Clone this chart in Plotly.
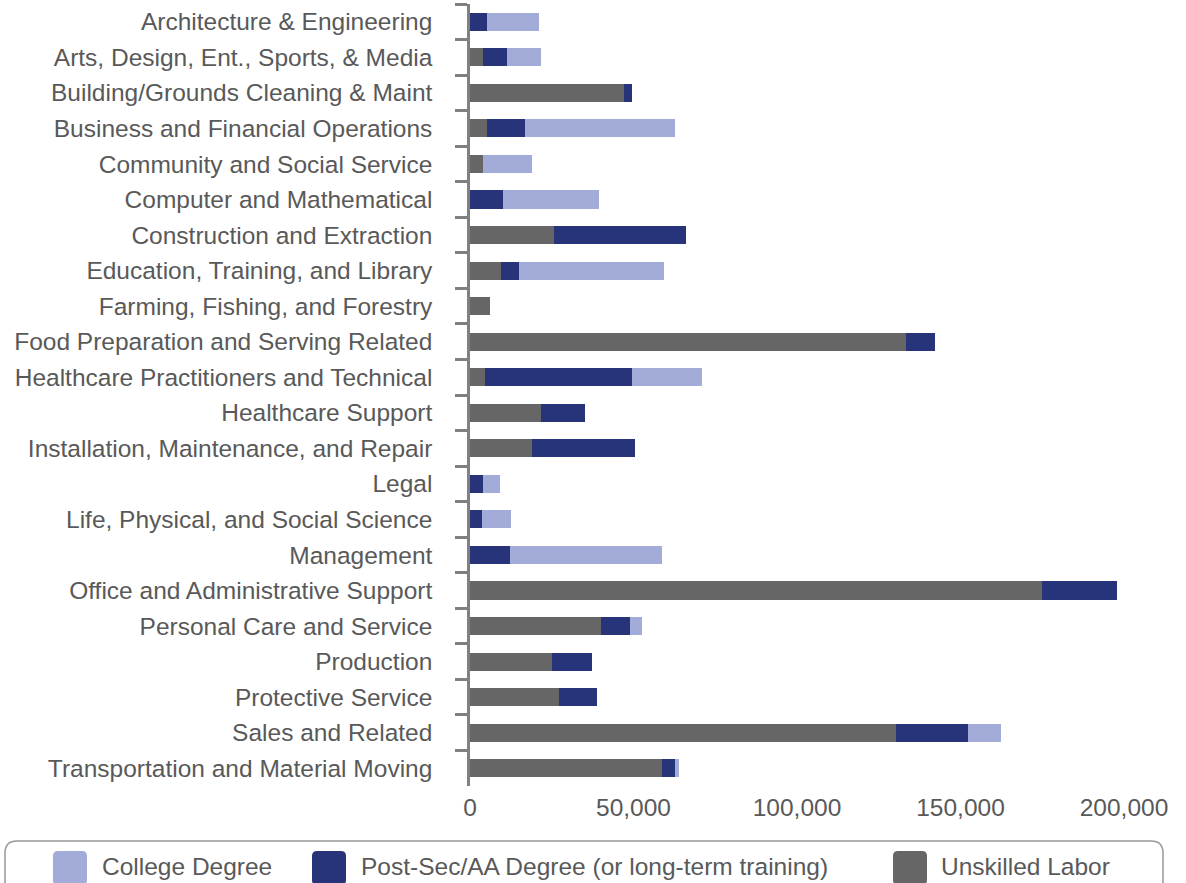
import plotly.graph_objects as go

categories = [
    "Architecture & Engineering",
    "Arts, Design, Ent., Sports, & Media",
    "Building/Grounds Cleaning & Maint",
    "Business and Financial Operations",
    "Community and Social Service",
    "Computer and Mathematical",
    "Construction and Extraction",
    "Education, Training, and Library",
    "Farming, Fishing, and Forestry",
    "Food Preparation and Serving Related",
    "Healthcare Practitioners and Technical",
    "Healthcare Support",
    "Installation, Maintenance, and Repair",
    "Legal",
    "Life, Physical, and Social Science",
    "Management",
    "Office and Administrative Support",
    "Personal Care and Service",
    "Production",
    "Protective Service",
    "Sales and Related",
    "Transportation and Material Moving",
]

unskilled = [0, 4100, 47200, 5300, 4100, 0, 25800, 9600, 6200, 133200, 4700, 21800,
             19100, 0, 0, 0, 175000, 40100, 25200, 27300, 130400, 58800]
postsec = [5300, 7300, 2400, 11600, 0, 10200, 40400, 5500, 0, 8900, 44900, 13500,
           31500, 4100, 3800, 12300, 22900, 8900, 12200, 11600, 22000, 4000]
college = [15900, 10400, 0, 45900, 15000, 29400, 0, 44300, 0, 0, 21400, 0,
           0, 5200, 8600, 46500, 0, 3700, 0, 0, 10100, 1200]

series_names = ["Unskilled Labor", "Post-Sec/AA Degree (or long-term training)", "College Degree"]
series_values = [unskilled, postsec, college]
series_colors = ["#666666", "#283479", "#A3ACD8"]

x_ticks = [0, 50000, 100000, 150000, 200000]

W, H = 1186, 883
ML, MR, MT, MB = 470, 62, 4, 97
PW, PH = W - ML - MR, H - MT - MB
TEXT = "#595959"
FONT = "Liberation Sans, Arial, Helvetica, sans-serif"
FS = 24.5


def px_x(px):
    return (px - ML) / PW


def px_y(py):
    return (H - MB - py) / PH


fig = go.Figure()
for name, vals, col in zip(series_names, series_values, series_colors):
    fig.add_trace(go.Bar(
        y=categories, x=vals, name=name, orientation="h",
        marker=dict(color=col, line=dict(width=0)),
        showlegend=False,
    ))

# manual legend (rounded box, rounded swatches, text)
shapes = []
annotations = []
bx0, bx1, byt, byb, r = 5, 1163, 841, 905, 12
path = (f"M {px_x(bx0)},{px_y(byb)} L {px_x(bx0)},{px_y(byt + r)} "
        f"Q {px_x(bx0)},{px_y(byt)} {px_x(bx0 + r)},{px_y(byt)} "
        f"L {px_x(bx1 - r)},{px_y(byt)} "
        f"Q {px_x(bx1)},{px_y(byt)} {px_x(bx1)},{px_y(byt + r)} "
        f"L {px_x(bx1)},{px_y(byb)}")
shapes.append(dict(type="path", xref="paper", yref="paper", path=path,
                   line=dict(color="#999999", width=1.5), layer="above"))

legend_items = [
    ("College Degree", "#A3ACD8", 53, 100),
    ("Post-Sec/AA Degree (or long-term training)", "#283479", 312, 359),
    ("Unskilled Labor", "#666666", 893, 939),
]
sw = 34
sy0 = 851
rs = 5
for label, col, sx, tx in legend_items:
    x0, x1, y0, y1 = sx, sx + sw, sy0, sy0 + sw
    p = (f"M {px_x(x0 + rs)},{px_y(y0)} L {px_x(x1 - rs)},{px_y(y0)} "
         f"Q {px_x(x1)},{px_y(y0)} {px_x(x1)},{px_y(y0 + rs)} "
         f"L {px_x(x1)},{px_y(y1 - rs)} "
         f"Q {px_x(x1)},{px_y(y1)} {px_x(x1 - rs)},{px_y(y1)} "
         f"L {px_x(x0 + rs)},{px_y(y1)} "
         f"Q {px_x(x0)},{px_y(y1)} {px_x(x0)},{px_y(y1 - rs)} "
         f"L {px_x(x0)},{px_y(y0 + rs)} "
         f"Q {px_x(x0)},{px_y(y0)} {px_x(x0 + rs)},{px_y(y0)} Z")
    shapes.append(dict(type="path", xref="paper", yref="paper", path=p,
                       fillcolor=col, line=dict(width=0), layer="above"))
    annotations.append(dict(xref="paper", yref="paper", x=px_x(tx), y=px_y(866),
                            xanchor="left", yanchor="middle", showarrow=False,
                            text=label, font=dict(size=FS, color=TEXT, family=FONT)))

fig.update_layout(
    width=W, height=H,
    margin=dict(l=ML, r=MR, t=MT, b=MB, pad=0),
    barmode="stack",
    bargap=0.49,
    plot_bgcolor="white",
    paper_bgcolor="white",
    font=dict(family=FONT, size=FS, color=TEXT),
    shapes=shapes,
    annotations=annotations,
    xaxis=dict(
        range=[0, 200000], tickvals=x_ticks, tickformat=",",
        showgrid=False, zeroline=False, showline=False, ticks="",
        ticklabelstandoff=4,
        tickfont=dict(size=FS, color=TEXT, family=FONT),
    ),
    yaxis=dict(
        autorange="reversed", type="category",
        showgrid=False, zeroline=False,
        showline=True, linecolor="#808080", linewidth=2.5,
        ticks="outside", ticklen=12, tickwidth=2.5, tickcolor="#808080",
        tickson="boundaries", ticklabelstandoff=30,
        tickfont=dict(size=FS, color=TEXT, family=FONT),
    ),
)

fig.write_html("out.html", config={"displayModeBar": False},
               post_script="document.body.style.margin='0';document.body.style.padding='0';")
